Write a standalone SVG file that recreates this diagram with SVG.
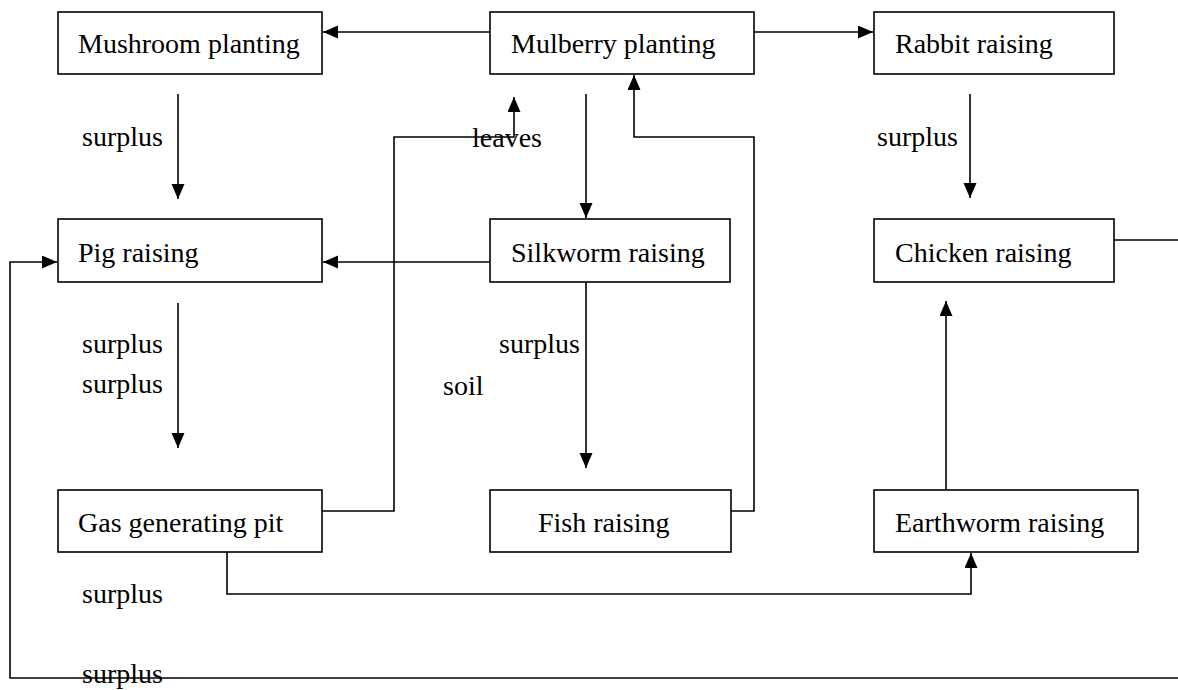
<svg xmlns="http://www.w3.org/2000/svg" width="1178" height="690" viewBox="0 0 1178 690">
<style>
.box{fill:#fff;stroke:#000;stroke-width:1.6}
text{font-family:'Liberation Serif','Times New Roman',Times,'DejaVu Serif',serif;font-size:28px;fill:#000}
.c{fill:none;stroke:#000;stroke-width:1.6}
</style>
<defs>
<marker id="ah" markerUnits="userSpaceOnUse" markerWidth="16" markerHeight="14" refX="15" refY="6.5" orient="auto">
<path d="M0,0 L15,6.5 L0,13 z" fill="#000"/>
</marker>
</defs>
<rect width="1178" height="690" fill="#fff"/>
<g id="connectors">
<path class="c" d="M490,32 H323" marker-end="url(#ah)"/>
<path class="c" d="M754,32 H873" marker-end="url(#ah)"/>
<path class="c" d="M178,94 V199" marker-end="url(#ah)"/>
<path class="c" d="M970,94 V198" marker-end="url(#ah)"/>
<path class="c" d="M586,94 V218" marker-end="url(#ah)"/>
<path class="c" d="M490,262 H323" marker-end="url(#ah)"/>
<path class="c" d="M178,303 V448" marker-end="url(#ah)"/>
<path class="c" d="M586,282 V468" marker-end="url(#ah)"/>
<path class="c" d="M322,511 H394 V137 H514 V97" marker-end="url(#ah)"/>
<path class="c" d="M731,511 H754 V137 H634 V75" marker-end="url(#ah)"/>
<path class="c" d="M227,552 V594 H971 V553" marker-end="url(#ah)"/>
<path class="c" d="M946,490 V301" marker-end="url(#ah)"/>
<path class="c" d="M1114,240 H1178"/>
<path class="c" d="M1178,678 H10 V262 H57" marker-end="url(#ah)"/>
</g>
<g font-family="'Liberation Serif', 'Times New Roman', serif">
<g id="mushroom"><rect class="box" x="58" y="12" width="264" height="62"/><text x="78" y="53">Mushroom planting</text></g>
<g id="mulberry"><rect class="box" x="490" y="12" width="264" height="62"/><text x="511" y="53">Mulberry planting</text></g>
<g id="rabbit"><rect class="box" x="874" y="12" width="240" height="62"/><text x="895" y="53">Rabbit raising</text></g>
<g id="pig"><rect class="box" x="58" y="219" width="264" height="63"/><text x="78" y="262">Pig raising</text></g>
<g id="silkworm"><rect class="box" x="490" y="219" width="240" height="63"/><text x="511" y="262">Silkworm raising</text></g>
<g id="chicken"><rect class="box" x="874" y="219" width="240" height="63"/><text x="895" y="262">Chicken raising</text></g>
<g id="gas"><rect class="box" x="58" y="490" width="264" height="62"/><text x="78" y="532">Gas generating pit</text></g>
<g id="fish"><rect class="box" x="490" y="490" width="241" height="62"/><text x="538" y="532">Fish raising</text></g>
<g id="earthworm"><rect class="box" x="874" y="490" width="264" height="62"/><text x="895" y="532">Earthworm raising</text></g>
<g id="labels">
<text x="82" y="146">surplus</text>
<text x="877" y="146">surplus</text>
<text x="472" y="147">leaves</text>
<text x="82" y="353">surplus</text>
<text x="82" y="393">surplus</text>
<text x="499" y="353">surplus</text>
<text x="443" y="395">soil</text>
<text x="82" y="603">surplus</text>
<text x="82" y="683">surplus</text>
</g>
</g>
</svg>
